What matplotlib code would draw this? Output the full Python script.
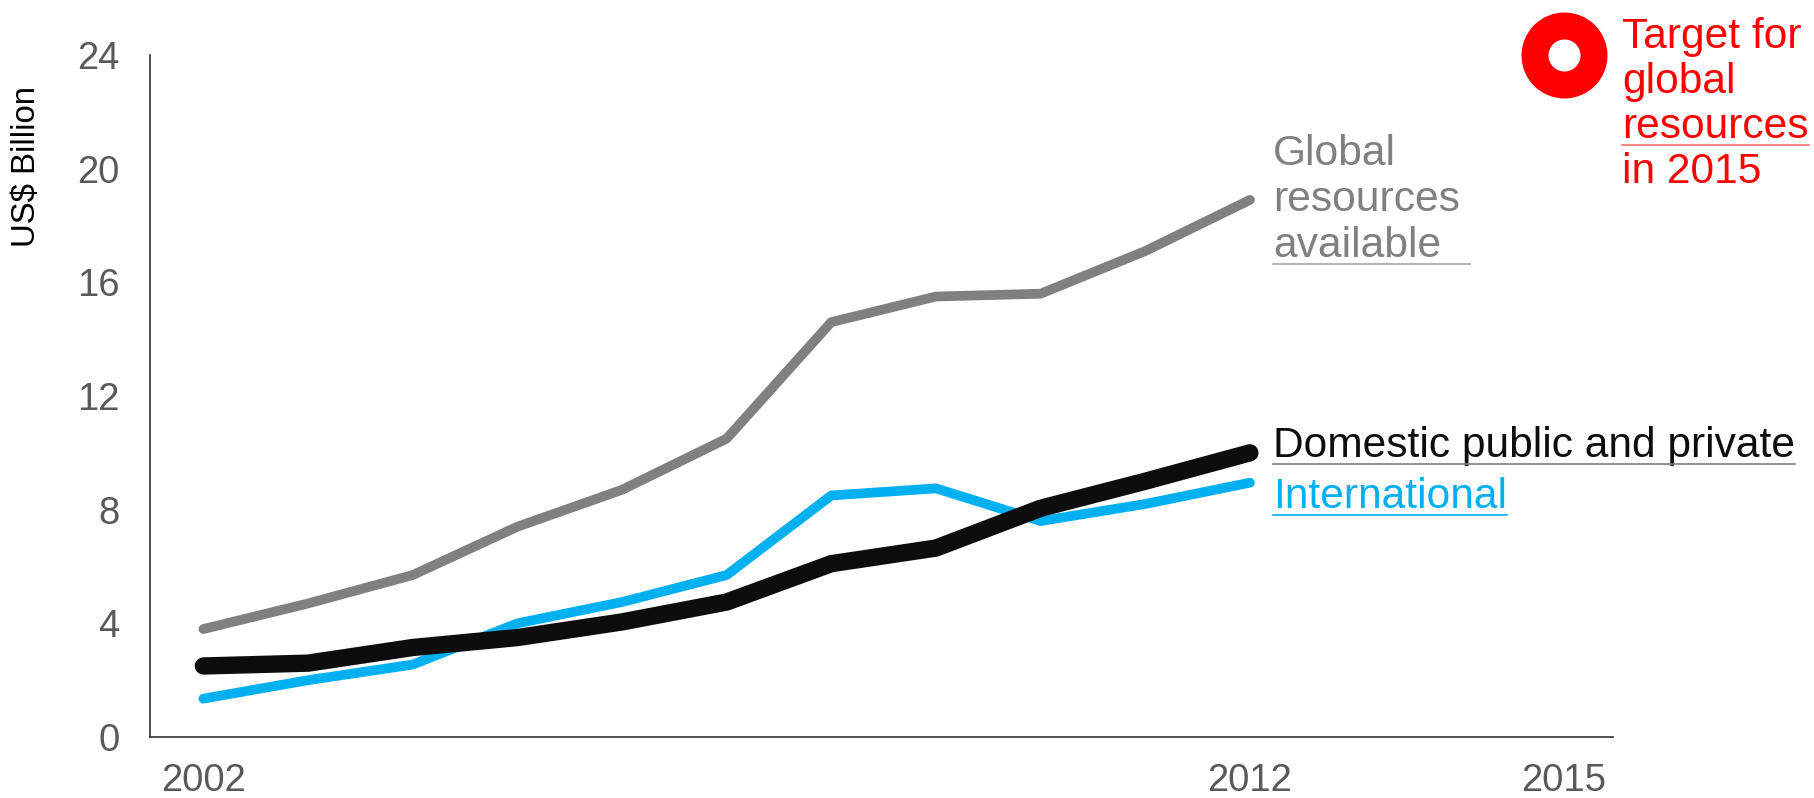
import matplotlib
matplotlib.use("Agg")
import matplotlib.pyplot as plt
from matplotlib.lines import Line2D

plt.rcParams["font.family"] = ["Liberation Sans", "DejaVu Sans"]

years = [2002, 2003, 2004, 2005, 2006, 2007, 2008, 2009, 2010, 2011, 2012]
global_res = [3.8, 4.7, 5.7, 7.4, 8.7, 10.5, 14.6, 15.5, 15.6, 17.1, 18.9]
international = [1.35, 2.0, 2.55, 4.0, 4.75, 5.7, 8.5, 8.75, 7.6, 8.2, 8.95]
domestic = [2.5, 2.6, 3.15, 3.5, 4.05, 4.75, 6.1, 6.65, 8.05, 9.0, 10.0]
target_year = 2015
target_value = 24

xticks = [2002, 2012, 2015]
yticks = [0, 4, 8, 12, 16, 20, 24]

GRAY = "#808080"
BLUE = "#00B0F0"
BLACK = "#0D0D0D"
RED = "#FF0000"
TICK = "#595959"

fig = plt.figure(figsize=(18.14, 7.98), dpi=100)
ax = fig.add_axes([0.0827, 0.0764, 0.8065, 0.8547])

ax.plot(years, global_res, color=GRAY, lw=7, solid_capstyle="round", solid_joinstyle="round")
ax.plot(years, international, color=BLUE, lw=7, solid_capstyle="round", solid_joinstyle="round")
ax.plot(years, domestic, color=BLACK, lw=12.5, solid_capstyle="round", solid_joinstyle="round")
ax.plot([target_year], [target_value], marker="o", ms=42.5, mfc="white", mec=RED,
        mew=19.4, clip_on=False, zorder=5)

ax.set_xlim(2001.49, 2015.47)
ax.set_ylim(0, 24)
ax.set_xticks(xticks)
ax.set_yticks(yticks)
ax.tick_params(length=0, labelsize=27.5, labelcolor=TICK)
ax.tick_params(axis="y", pad=22)
ax.tick_params(axis="x", pad=19)
for s in ["top", "right"]:
    ax.spines[s].set_visible(False)
for s in ["left", "bottom"]:
    ax.spines[s].set_color("#333333")
    ax.spines[s].set_linewidth(1.2)

ax.set_ylabel("US$ Billion", fontsize=23.8, color="black")
ax.yaxis.set_label_coords(-0.0735, 0.836)


def block(lines, x, y, color, size, step=33):
    texts = []
    for i, line in enumerate(lines):
        t = ax.annotate(line, (x, y), xytext=(0, -i * step), textcoords="offset points",
                        ha="left", va="baseline", color=color, fontsize=size,
                        annotation_clip=False)
        texts.append(t)
    return texts


g_txt = block(["Global", "resources", "available"], 2012.22, 20.13, GRAY, 30.7)
d_txt = block(["Domestic public and private"], 2012.22, 9.85, BLACK, 30.6)
i_txt = block(["International"], 2012.22, 8.06, BLUE, 30.6)
t_txt = block(["Target for", "global", "resources", "in 2015"], 2015.56, 24.25, RED, 30.6, step=32.5)

fig.canvas.draw()
renderer = fig.canvas.get_renderer()
inv = fig.transFigure.inverted()


def underline(texts, under, color, extra=0):
    boxes = [t.get_window_extent(renderer) for t in texts]
    x0 = min(b.x0 for b in boxes)
    x1 = max(b.x1 for b in boxes) + extra
    y = under.get_window_extent(renderer).y0 + 2
    (fx0, fy), (fx1, _) = inv.transform([(x0, y), (x1, y)])
    fig.add_artist(Line2D([fx0, fx1], [fy, fy], color=color, lw=1.2))


underline(g_txt, g_txt[-1], "#A6A6A6", extra=10)
underline(d_txt, d_txt[-1], "#7F7F7F")
underline(i_txt, i_txt[-1], BLUE)
underline([t_txt[2]], t_txt[2], "#FF7070")

fig.savefig("out.png", dpi=100)
